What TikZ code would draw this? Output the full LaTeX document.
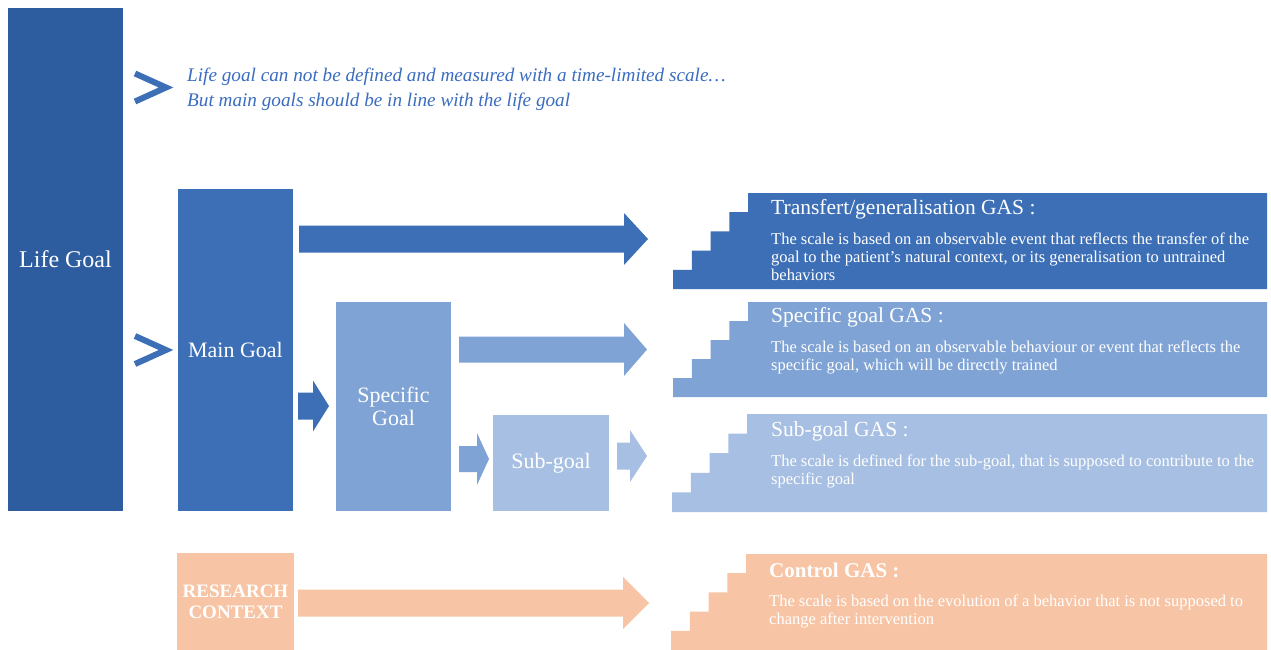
\documentclass[tikz,border=0pt]{standalone}
\usepackage{fontspec}
\setmainfont{Liberation Serif}
\definecolor{lifeblue}{HTML}{2D5D9F}
\definecolor{mainblue}{HTML}{3D6FB7}
\definecolor{specblue}{HTML}{7FA3D4}
\definecolor{subblue}{HTML}{A7BFE2}
\definecolor{peach}{HTML}{F7C5A5}
\definecolor{itxt}{HTML}{3A6CC0}
\newcommand\barrow[7]{\fill[#1] (#2,{#5-#6}) -- (#3,{#5-#6}) -- (#3,{#5-#7}) -- (#4,#5) -- (#3,{#5+#7}) -- (#3,{#5+#6}) -- (#2,{#5+#6}) -- cycle;}
% stairs: color, x0 (top-left x), ytop, ybot
\newcommand\stairs[4]{%
  \pgfmathsetmacro\sdy{(#4-#3)/5}%
  \fill[#1] (#2,#3) -- (1267,#3) -- (1267,#4) -- ({#2-75},#4)
    -- ({#2-75},{#3+4*\sdy}) -- ({#2-56.25},{#3+4*\sdy})
    -- ({#2-56.25},{#3+3*\sdy}) -- ({#2-37.5},{#3+3*\sdy})
    -- ({#2-37.5},{#3+2*\sdy}) -- ({#2-18.75},{#3+2*\sdy})
    -- ({#2-18.75},{#3+\sdy}) -- (#2,{#3+\sdy}) -- cycle;}
\tikzset{
  box/.style={anchor=north west, inner sep=0pt, outer sep=0pt, text=white, align=center, font=\fontsize{22}{24}\selectfont},
  chev/.style={draw=mainblue, line width=6pt, miter limit=10},
  itl/.style={anchor=base west, inner sep=0pt, text=itxt, font=\fontsize{19.2}{24}\selectfont\itshape},
  ttl/.style={anchor=base west, inner sep=0pt, text=white, font=\fontsize{21.5}{24}\selectfont},
  bdy/.style={anchor=base west, inner sep=0pt, text=white, font=\fontsize{16.5}{18}\selectfont},
}
\begin{document}
\begin{tikzpicture}[x=1pt,y=-1pt]
\useasboundingbox[fill=white] (0,0) rectangle (1271,650);
% left boxes
\node[box, fill=lifeblue, minimum width=115pt, minimum height=503pt, font=\fontsize{24}{26}\selectfont] (life) at (8,8) {Life Goal};
\node[box, fill=mainblue, minimum width=115pt, minimum height=322pt] (main) at (178,189) {Main Goal};
\node[box, fill=specblue, minimum width=115pt, minimum height=209pt, font=\fontsize{22}{23.5}\selectfont] (spec) at (336,302) {Specific\\Goal};
\node[box, fill=subblue, minimum width=116pt, minimum height=96pt] (sub) at (493,415) {Sub-goal};
\node[box, fill=peach, minimum width=117pt, minimum height=97pt, font=\fontsize{19}{21}\selectfont\bfseries] (res) at (177,553) {RESEARCH\\CONTEXT};
% chevrons
\draw[chev] (135,73.5) -- (166,87.5) -- (135,101.5);
\draw[chev] (135,336) -- (166,350) -- (135,364);
% italic text
\node[itl] (l1) at (187,82) {Life goal can not be defined and measured with a time-limited scale\ldots};
\node[itl] (l2) at (187,107) {But main goals should be in line with the life goal};
% block arrows
\barrow{mainblue}{299}{624}{648}{239}{13.5}{26}
\barrow{mainblue}{298}{313}{329}{406}{13.5}{25.5}
\barrow{specblue}{459}{624}{647}{349.5}{13}{26.5}
\barrow{specblue}{459}{477}{489}{459}{13}{26}
\barrow{subblue}{617}{630}{647}{456}{13.5}{26}
\barrow{peach}{298}{623}{649}{603}{13.5}{26}
% stair panels
\stairs{mainblue}{748}{193}{289}
\stairs{specblue}{748}{302}{397}
\stairs{subblue}{747}{414}{512}
\stairs{peach}{746}{554}{650}
% panel texts
\node[ttl] (p1t) at (771,214) {Transfert/generalisation GAS :};
\node[bdy] (p1a) at (771,244) {The scale is based on an observable event that reflects the transfer of the};
\node[bdy] (p1b) at (771,262) {goal to the patient’s natural context, or its generalisation to untrained};
\node[bdy] (p1c) at (771,280) {behaviors};
\node[ttl] (p2t) at (771,322) {Specific goal GAS :};
\node[bdy] (p2a) at (771,352) {The scale is based on an observable behaviour or event that reflects the};
\node[bdy] (p2b) at (771,370) {specific goal, which will be directly trained};
\node[ttl] (p3t) at (771,436) {Sub-goal GAS :};
\node[bdy] (p3a) at (771,466) {The scale is defined for the sub-goal, that is supposed to contribute to the};
\node[bdy] (p3b) at (771,484) {specific goal};
\node[ttl, font=\fontsize{21}{24}\selectfont\bfseries] (p4t) at (769,577) {Control GAS :};
\node[bdy] (p4a) at (769,606) {The scale is based on the evolution of a behavior that is not supposed to};
\node[bdy] (p4b) at (769,624) {change after intervention};
\end{tikzpicture}
\end{document}
